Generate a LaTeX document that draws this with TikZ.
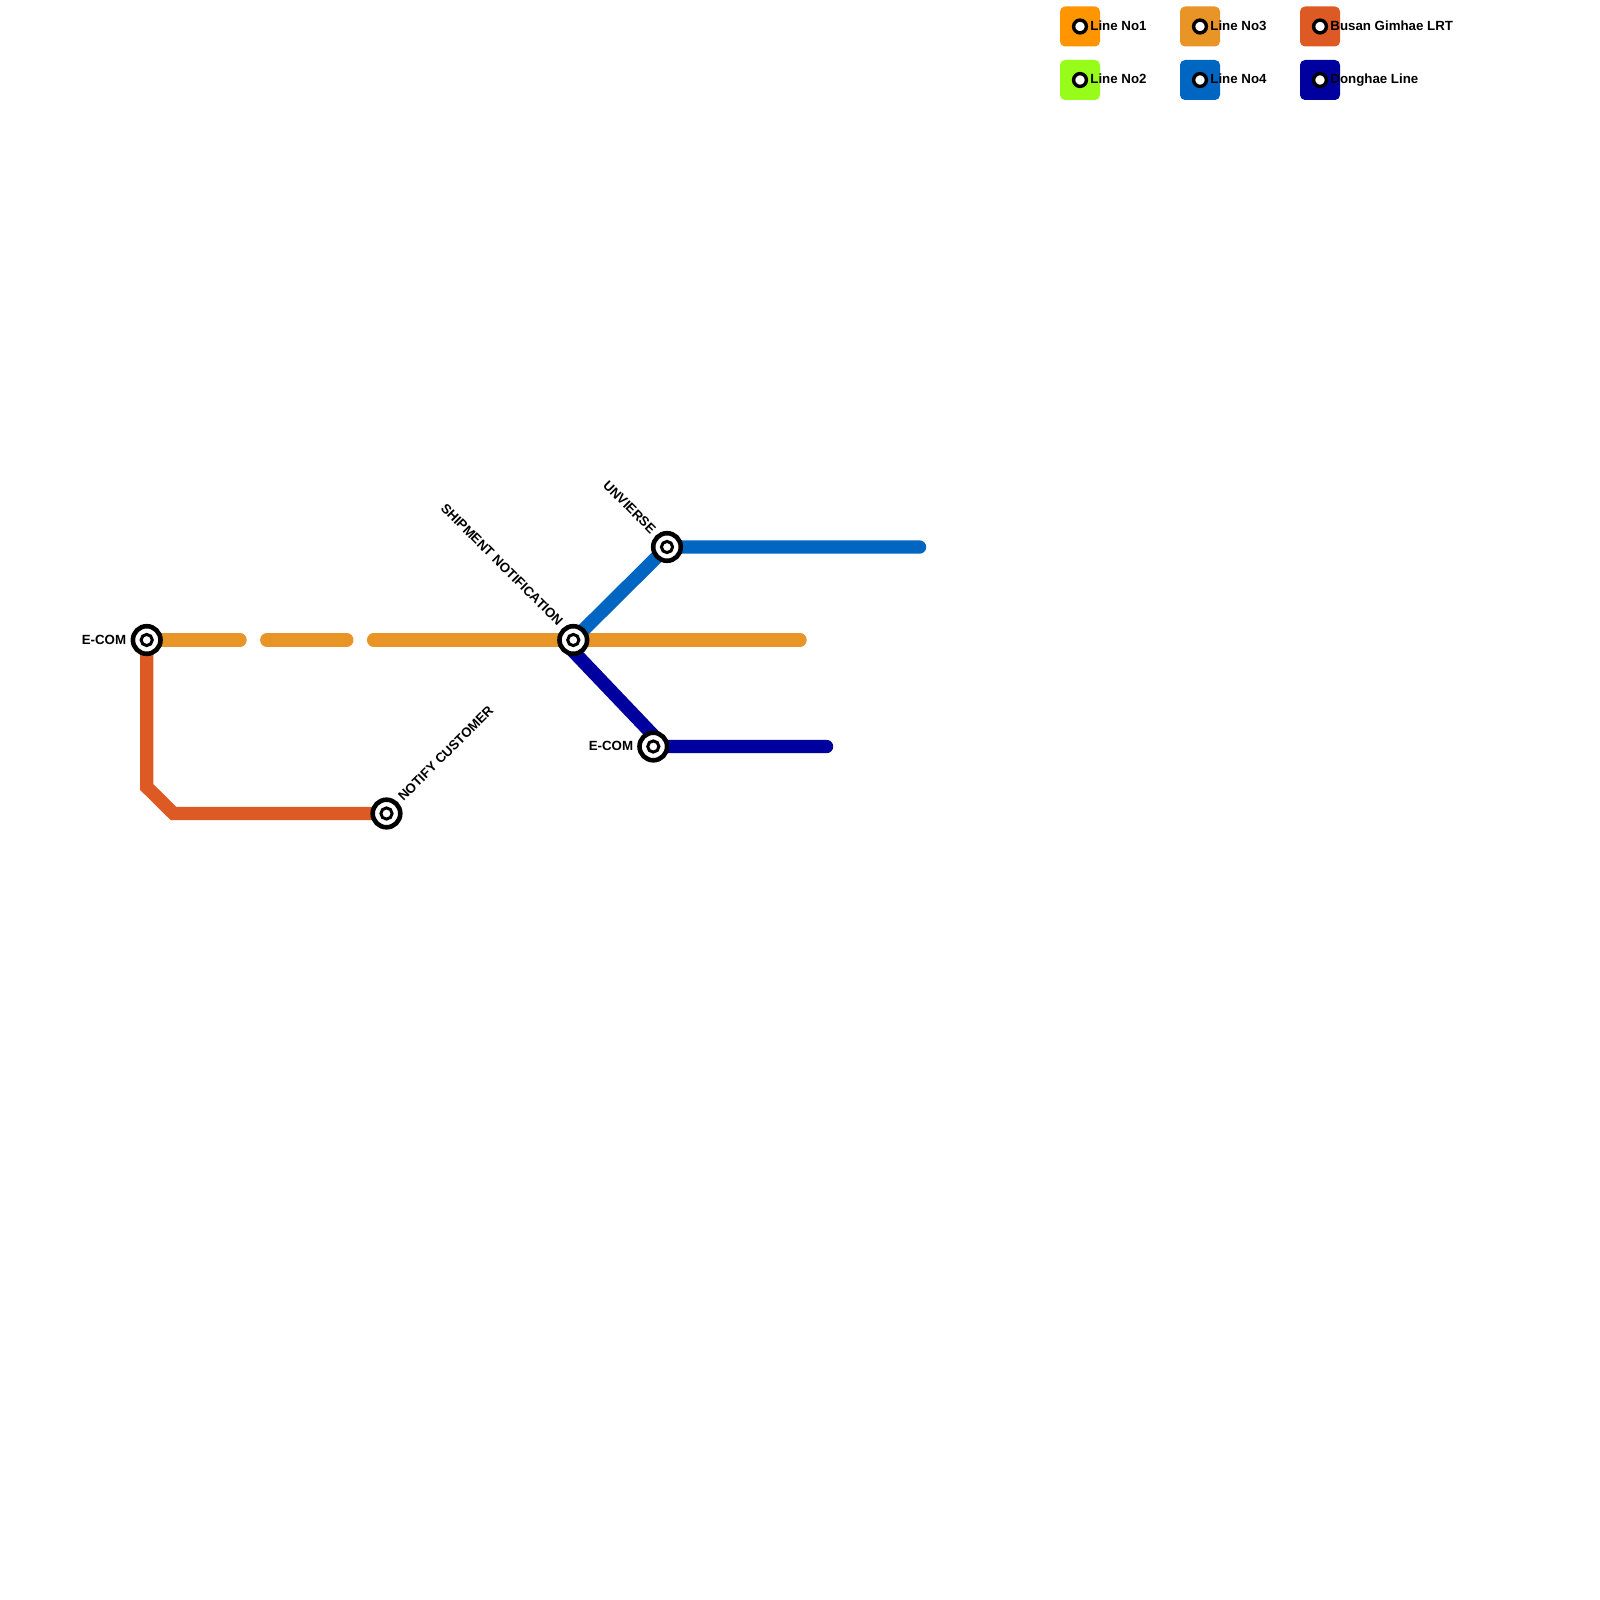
\documentclass[tikz,border=0pt]{standalone}
\usepackage{fontspec}
\setmainfont{Liberation Sans}
\definecolor{cone}{HTML}{FF9500}
\definecolor{ctwo}{HTML}{97FC1A}
\definecolor{cthree}{HTML}{E89427}
\definecolor{cfour}{HTML}{0066C2}
\definecolor{cgim}{HTML}{DE5A24}
\definecolor{cdong}{HTML}{00009E}
\pgfdeclarelayer{lines}
\pgfsetlayers{lines,main}
\tikzset{
  stn/.style={circle,draw=black,fill=white,line width=2.3pt,minimum size=13.8pt,inner sep=0pt,
    path picture={\draw[black,line width=1.5pt] (path picture bounding box.center) circle (2.8pt);}},
  legstn/.style={circle,draw=black,fill=white,line width=1.7pt,minimum size=6.4pt,inner sep=0pt},
  swatch/.style={rectangle,rounded corners=2.5pt,minimum size=20pt,inner sep=0pt,fill=#1},
  rail/.style={line width=6.7pt,draw=#1},
  lbl/.style={font=\fontsize{6.65pt}{7pt}\selectfont\bfseries,inner sep=0pt,text=black},
}
\begin{document}
\begin{tikzpicture}[x=0.5pt,y=-0.5pt]
\useasboundingbox (0,0) rectangle (1600,1600);
% stations
\node[stn] (ecoma) at (146.7,640) {};
\node[stn] (ship) at (573.3,640) {};
\node[stn] (univ) at (667,547) {};
\node[stn] (ecomb) at (653.3,746.5) {};
\node[stn] (notify) at (386.5,813.5) {};
% free ends
\coordinate (oend) at (800,640);
\coordinate (bend) at (919.5,547);
\coordinate (dstart) at (572,650);
\coordinate (dturn) at (664,746.5);
\coordinate (dend) at (826.5,746.5);
\coordinate (ga) at (146.7,787);
\coordinate (gb) at (173.5,813.5);
\begin{pgfonlayer}{lines}
\fill[white] (0,0) rectangle (1600,1600);
\draw[rail=cgim,line join=miter] (ecoma.center) -- (ga) -- (gb) -- (notify.center);
\draw[rail=cthree,line cap=round,dash pattern=on 46.65pt off 13.4pt on 40pt off 13.4pt on 800pt] (ecoma.center) -- (oend);
\draw[rail=cfour,line cap=round] (ship.center) -- (univ.center) -- (bend);
\draw[rail=cdong,line cap=round,line join=round] (dstart) -- (dturn) -- (dend);
\end{pgfonlayer}
% labels
\node[lbl,anchor=east] (la) at (126.5,639.5) {E-COM};
\node[lbl,anchor=east] (lb) at (633.5,746) {E-COM};
\node[lbl,anchor=east,rotate=-45] (lc) at (561,623.5) {SHIPMENT NOTIFICATION};
\node[lbl,anchor=east,rotate=-45] (ld) at (654,531.5) {UNVIERSE};
\node[lbl,anchor=west,rotate=45] (le) at (400,799) {NOTIFY CUSTOMER};
% legend
\node[swatch=cone] (s1) at (1080,26.5) {};
\node[swatch=ctwo] (s2) at (1080,80) {};
\node[swatch=cthree] (s3) at (1200,26.5) {};
\node[swatch=cfour] (s4) at (1200,80) {};
\node[swatch=cgim] (s5) at (1320,26.5) {};
\node[swatch=cdong] (s6) at (1320,80) {};
\foreach \s in {1,...,6} \node[legstn] (d\s) at (s\s.center) {};
\node[lbl,anchor=west] (t1) at (1090,25.5) {Line No1};
\node[lbl,anchor=west] (t2) at (1090,79) {Line No2};
\node[lbl,anchor=west] (t3) at (1210,25.5) {Line No3};
\node[lbl,anchor=west] (t4) at (1210,79) {Line No4};
\node[lbl,anchor=west] (t5) at (1330,25.5) {Busan Gimhae LRT};
\node[lbl,anchor=west] (t6) at (1330,80) {Donghae Line};
\end{tikzpicture}
\end{document}
